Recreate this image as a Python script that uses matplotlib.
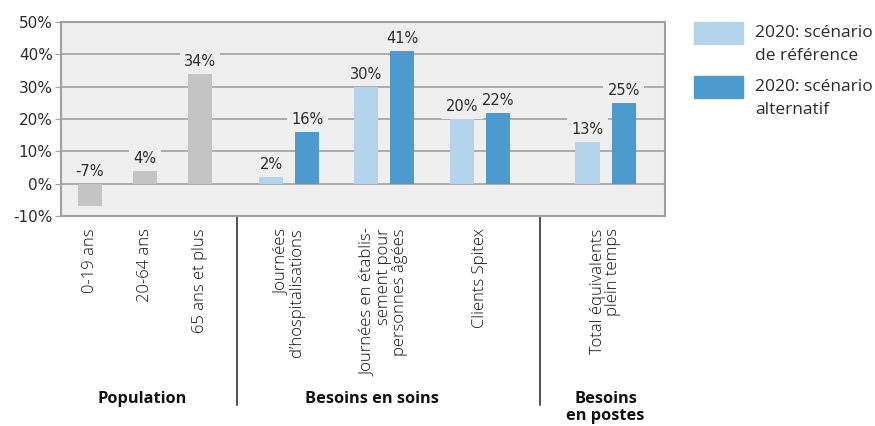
import matplotlib
matplotlib.use('Agg')
import matplotlib.pyplot as plt
from matplotlib.patches import Rectangle

# ---------- Données ----------
pop_labels = ['0-19 ans', '20-64 ans', '65 ans et plus']
pop_values = [-7, 4, 34]

group_labels = ['Journées\nd\u2019hospitalisations',
                'Journées en établis-\nsement pour\npersonnes âgées',
                'Clients Spitex',
                'Total équivalents\nplein temps']
ref_values = [2, 30, 20, 13]
alt_values = [16, 41, 22, 25]

section_labels = ['Population', 'Besoins en soins', 'Besoins\nen postes']
legend_labels = ['2020: scénario\nde référence', '2020: scénario\nalternatif']
y_ticks = [-10, 0, 10, 20, 30, 40, 50]

# ---------- Mise en page ----------
pop_pos = [0, 1, 2]
group_pos = [3.62, 5.34, 7.09, 9.37]
offset = 0.33
bar_w = 0.44
separators = [2.67, 8.18]
section_x = [0.95, 5.13, 9.37]

GRAY = '#c4c4c4'
LIGHT = '#b3d4ea'
DARK = '#4d9acf'
BG = '#efefef'
GRID = '#a0a0a0'
TXT = '#2b2b2b'

fig = plt.figure(figsize=(8.75, 4.26), dpi=100)
ax = fig.add_axes([61 / 875, 1 - 216 / 426, 604 / 875, 194 / 426])
ax.set_facecolor(BG)
ax.set_xlim(-0.527, 10.45)
ax.set_ylim(-10, 50)

ax.set_yticks(y_ticks)
ax.set_yticklabels([f'{t}%' for t in y_ticks], fontsize=11, color=TXT)
ax.tick_params(axis='y', length=4, color=GRID, pad=2)
ax.yaxis.grid(True, color=GRID, linewidth=1.2)
ax.set_axisbelow(True)
for s in ax.spines.values():
  s.set_color(GRID)
  s.set_linewidth(1.5)


def add_label(x, v):
  ax.annotate(f'{v}%', (x, max(v, 0)), xytext=(0, 3.5), textcoords='offset points',
              ha='center', va='bottom', fontsize=10.5, color=TXT, zorder=4,
              bbox=dict(boxstyle='square,pad=0.3', fc=BG, ec='none'))


ax.bar(pop_pos, pop_values, width=bar_w, color=GRAY, zorder=3)
for x, v in zip(pop_pos, pop_values):
  add_label(x, v)

ref_x = [p - offset for p in group_pos]
alt_x = [p + offset for p in group_pos]
ax.bar(ref_x, ref_values, width=bar_w, color=LIGHT, zorder=3)
ax.bar(alt_x, alt_values, width=bar_w, color=DARK, zorder=3)
for x, v in zip(ref_x, ref_values):
  add_label(x, v)
for x, v in zip(alt_x, alt_values):
  add_label(x, v)

# étiquettes des catégories
ax.set_xticks(pop_pos + group_pos)
ax.set_xticklabels(pop_labels + group_labels, rotation=90, va='top', ha='center',
                   multialignment='right', fontsize=12, color='#111111', family='Open Sans',
                   fontweight='light', linespacing=0.98)
ax.tick_params(axis='x', length=0, pad=9)

# séparateurs et titres de sections
trans = ax.get_xaxis_transform()
for sx in separators:
  ax.plot([sx, sx], [0, -0.975], transform=trans, color='#222222', lw=1.1, clip_on=False)
for sx, lab in zip(section_x, section_labels):
  ax.text(sx, -0.9, lab, transform=trans, ha='center', va='top', fontsize=11.8,
          fontweight='bold', family='Open Sans', color='#111111', linespacing=1.12)

# légende
for i, (lab, col) in enumerate(zip(legend_labels, [LIGHT, DARK])):
  top = 22 + i * 54
  fig.patches.append(Rectangle((694 / 875, 1 - (top + 22) / 426), 49 / 875, 22 / 426,
                               transform=fig.transFigure, color=col))
  fig.text(755 / 875, 1 - (top + 3) / 426, lab, ha='left', va='top', fontsize=12.5,
           family='Open Sans', color=TXT, linespacing=1.6)

plt.savefig('out.png', dpi=100)
